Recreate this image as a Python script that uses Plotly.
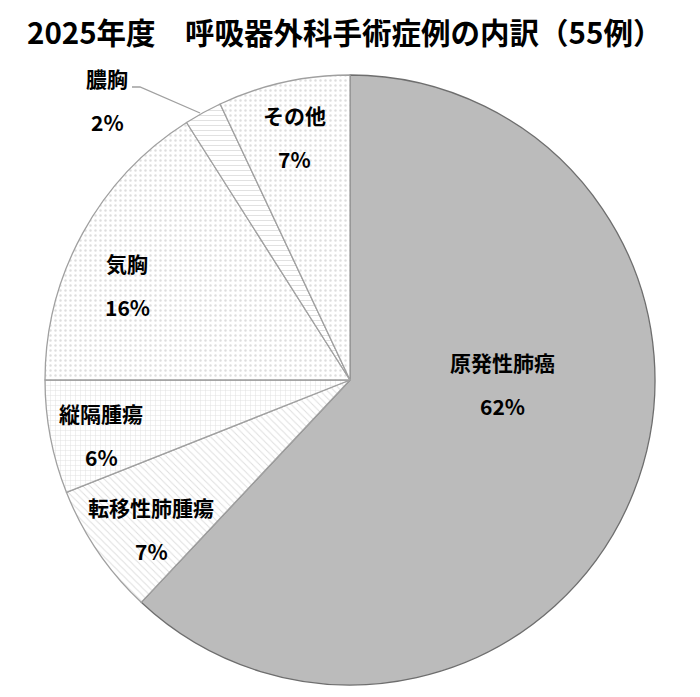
import plotly.graph_objects as go

# 2025年度 呼吸器外科手術症例の内訳（55例）
labels = ["原発性肺癌", "転移性肺腫瘍", "縦隔腫瘍", "気胸", "膿胸", "その他"]
values = [62, 7, 6, 16, 2, 7]

fills = ["#BBBBBB", "white", "white", "white", "white", "white"]
edges = ["#6e6e6e", "#a0a0a0", "#a0a0a0", "#a0a0a0", "#a0a0a0", "#a0a0a0"]
shapes = ["", "\\", "+", ".", "-", "."]

# label centres in page pixels (label row / percent row)
lab_xy = [(502, 362), (151, 507), (101, 413), (127, 263), (107, 78), (294, 115)]
pct_dy = 44

OFF = 8  # page body margin


def px(x, y):
    return (x - OFF) / 700, 1 - (y - OFF) / 697


fig = go.Figure(go.Pie(
    labels=labels,
    values=values,
    sort=False,
    direction="clockwise",
    rotation=0,
    marker=dict(
        colors=fills,
        line=dict(color=edges, width=1.3),
        pattern=dict(shape=shapes, fgcolor="#dedede", size=5, solidity=0.18),
    ),
    textinfo="none",
    hoverinfo="label+percent",
    domain=dict(x=[37 / 700, 647 / 700], y=[1 - 677 / 697, 1 - 67 / 697]),
    showlegend=False,
))

anns = []
for lab, v, (x, y) in zip(labels, values, lab_xy):
    ax, ay = px(x, y)
    anns.append(dict(x=ax, y=ay, xref="paper", yref="paper", text="<b>%s</b>" % lab,
                     showarrow=False, xanchor="center", yanchor="middle"))
    bx, by = px(x, y + pct_dy)
    anns.append(dict(x=bx, y=by, xref="paper", yref="paper", text="<b>%d%%</b>" % v,
                     showarrow=False, xanchor="center", yanchor="middle"))

# leader line for 膿胸
x0, y0 = px(132, 87)
x1, y1 = px(140, 87)
x2, y2 = px(200, 113)
fig.add_shape(type="path", xref="paper", yref="paper",
              path="M %f %f L %f %f L %f %f" % (x0, y0, x1, y1, x2, y2),
              line=dict(color="#a0a0a0", width=1.3))

tx, _ = px(25, 0)
anns.append(dict(x=tx, y=1, xref="paper", yref="paper",
                 text="<b>2025年度　呼吸器外科手術症例の内訳（55例）</b>",
                 showarrow=False, xanchor="left", yanchor="top",
                 font=dict(size=29.5)))

fig.update_layout(
    width=700, height=697,
    margin=dict(l=0, r=0, t=0, b=0),
    paper_bgcolor="white",
    font=dict(family="Noto Sans CJK JP", color="black", size=21),
    annotations=anns,
)

fig.write_html("out.html")
